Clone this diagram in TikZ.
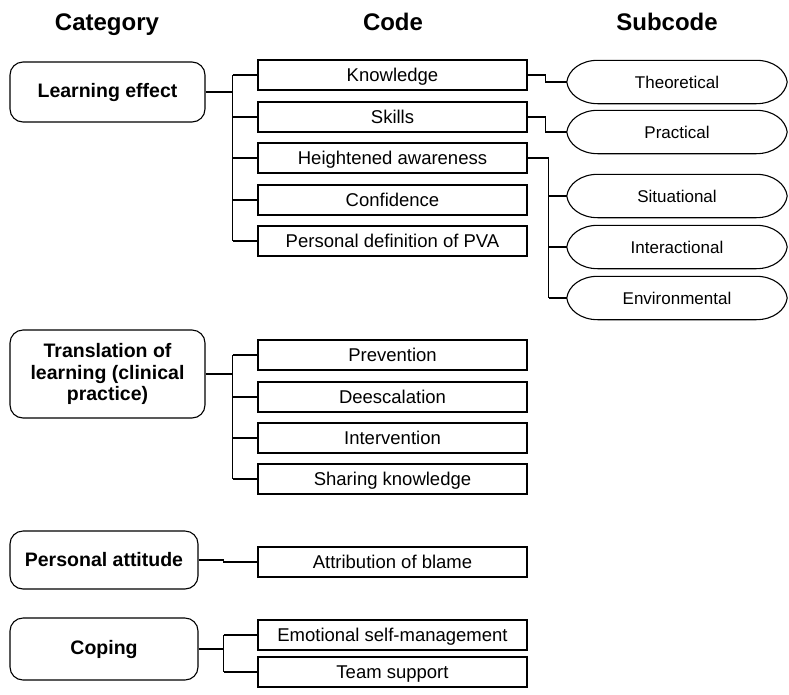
\documentclass[tikz,border=0pt]{standalone}
\usepackage{fontspec}
\setmainfont{Liberation Sans}
\usetikzlibrary{calc}
\tikzset{
  header/.style={font=\bfseries\fontsize{24}{28}\selectfont, anchor=base},
  catbox/.style={draw, line width=1.1pt, rounded corners=13pt, align=center,
    font=\bfseries\fontsize{19.5}{21.5}\selectfont, inner sep=2pt},
  codebox/.style={draw, line width=1.1pt, minimum width=269pt, minimum height=30pt,
    inner sep=0pt, text height=15pt, text depth=3pt, font=\fontsize{18.5}{21}\selectfont},
  subbox/.style={minimum width=220pt, minimum height=43pt, inner sep=0pt,
    text height=14pt, text depth=2pt, font=\fontsize{17}{20}\selectfont},
  link/.style={line width=1.1pt},
  trunk/.style={line width=2pt},
}
% outline of a subcode: half-elliptic ends, flat top and bottom
\newcommand{\subshape}[1]{%
  \draw[line width=1.1pt]
    (#1.west) .. controls ($(#1.west)+(1.5,-12)$) and ($(#1.north west)+(14,0)$) .. ($(#1.north west)+(31,0)$)
    -- ($(#1.north east)+(-31,0)$)
    .. controls ($(#1.north east)+(-14,0)$) and ($(#1.east)+(-1.5,-12)$) .. (#1.east)
    .. controls ($(#1.east)+(-1.5,12)$) and ($(#1.south east)+(-14,0)$) .. ($(#1.south east)+(-31,0)$)
    -- ($(#1.south west)+(31,0)$)
    .. controls ($(#1.south west)+(14,0)$) and ($(#1.west)+(1.5,12)$) .. (#1.west) -- cycle;}
\begin{document}
\begin{tikzpicture}[x=1pt, y=-1pt]
\useasboundingbox (0,0) rectangle (789,694);

% column headings
\node[header] (hcat) at (107,30) {Category};
\node[header] (hcode) at (393,30) {Code};
\node[header] (hsub) at (667,30) {Subcode};

% categories
\node[catbox, minimum width=195pt, minimum height=60pt] (le) at (107.5,92) {Learning effect};
\node[catbox, minimum width=195pt, minimum height=88pt] (tl) at (107.5,374) {Translation of\\learning (clinical\\practice)};
\node[catbox, minimum width=188pt, minimum height=58pt] (pa) at (104,560) {Personal attitude};
\node[catbox, minimum width=188pt, minimum height=62pt] (cp) at (104,649) {Coping};

% codes
\node[codebox] (kn) at (392.5,75) {Knowledge};
\node[codebox] (sk) at (392.5,117) {Skills};
\node[codebox] (ha) at (392.5,158) {Heightened awareness};
\node[codebox] (cf) at (392.5,200) {Confidence};
\node[codebox] (pd) at (392.5,241) {Personal definition of PVA};
\node[codebox] (pv) at (392.5,355) {Prevention};
\node[codebox] (de) at (392.5,397) {Deescalation};
\node[codebox] (iv) at (392.5,438) {Intervention};
\node[codebox] (sh) at (392.5,479) {Sharing knowledge};
\node[codebox] (ab) at (392.5,562) {Attribution of blame};
\node[codebox] (em) at (392.5,635) {Emotional self-management};
\node[codebox] (ts) at (392.5,672) {Team support};

% subcodes
\node[subbox] (th) at (677,82) {Theoretical};
\node[subbox] (pr) at (677,132) {Practical};
\node[subbox] (si) at (677,196) {Situational};
\node[subbox] (ia) at (677,247) {Interactional};
\node[subbox] (en) at (677,298) {Environmental};
\foreach \s in {th,pr,si,ia,en} {\subshape{\s}}

% category to code connectors
\coordinate (jle) at ($(le.east)+(27,0)$);
\draw[trunk] (le.east) -- (jle);
\draw[link] (jle |- kn.west) -- (jle |- pd.west);
\foreach \c in {kn,sk,ha,cf,pd} {\draw[link] (jle |- \c.west) -- (\c.west);}

\coordinate (jtl) at ($(tl.east)+(27,0)$);
\draw[trunk] (tl.east) -- (jtl);
\draw[link] (jtl |- pv.west) -- (jtl |- sh.west);
\foreach \c in {pv,de,iv,sh} {\draw[link] (jtl |- \c.west) -- (\c.west);}

\draw[link] (pa.east) -- ++(25,0) |- (ab.west);

\coordinate (jcp) at ($(cp.east)+(25,0)$);
\draw[trunk] (cp.east) -- (jcp);
\draw[link] (jcp |- em.west) -- (jcp |- ts.west);
\foreach \c in {em,ts} {\draw[link] (jcp |- \c.west) -- (\c.west);}

% code to subcode connectors
\draw[link] (kn.east) -- ++(18,0) |- (th.west);
\draw[link] (sk.east) -- ++(18,0) |- (pr.west);
\coordinate (jha) at ($(ha.east)+(21,0)$);
\draw[trunk] (ha.east) -- (jha);
\draw[link] (jha) -- (jha |- en.west);
\foreach \s in {si,ia,en} {\draw[link] (jha |- \s.west) -- (\s.west);}
\end{tikzpicture}
\end{document}
